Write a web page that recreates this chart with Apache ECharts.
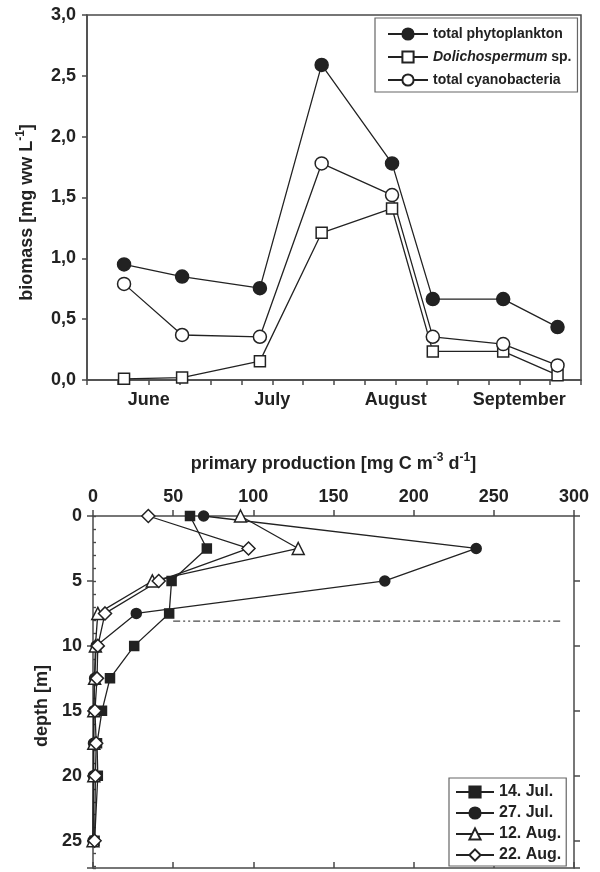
<!DOCTYPE html>
<html>
<head>
<meta charset="utf-8">
<script src="https://cdn.jsdelivr.net/npm/echarts@6/dist/echarts.min.js"></script>
<style>
  html, body { margin: 0; padding: 0; background: #fff; }
  #chart { width: 600px; height: 872px; }
</style>
</head>
<body>
<div id="chart"></div>
<script>
// top panel: biomass over the season (x in months from 1 June)
const sampleTime = [0.30, 0.77, 1.40, 1.90, 2.47, 2.80, 3.37, 3.81]
const totalPhyto = [0.95, 0.85, 0.755, 2.59, 1.78, 0.665, 0.665, 0.435]
const dolichospermum = [0.01, 0.02, 0.155, 1.21, 1.41, 0.235, 0.235, 0.04]
const totalCyano = [0.79, 0.37, 0.355, 1.78, 1.52, 0.355, 0.295, 0.12]
const monthLabels = ['June', 'July', 'August', 'September']

// bottom panel: primary production profiles
const depths = [0, 2.5, 5, 7.5, 10, 12.5, 15, 17.5, 20, 25]
const pp14Jul = [60.5, 71, 49, 47.5, 25.7, 10.6, 5.6, 2.5, 3, 1]
const pp27Jul = [69, 239, 182, 27, 2, 1, 0.5, 0.3, 0.2, 0]
const pp12Aug = [92, 128, 37, 3, 1.5, 1, 0.5, 0.5, 0.5, 0]
const pp22Aug = [34.5, 97, 41, 7.5, 3, 2.5, 1.2, 2, 1.5, 1]
const mixedDepth = 8.1
const mixedRange = [50, 293]

const FONT = "'Liberation Sans', Arial, sans-serif"
const INK = '#222'
const AXIS = '#4a4a4a'

const chart = echarts.init(document.getElementById('chart'))

const pairs = (xs, ys) => xs.map((x, i) => [x, ys[i]])
const profile = (vals) => vals.map((v, i) => [v, depths[i]])

const lbl = { fontFamily: FONT, fontWeight: 'bold', fontSize: 18, color: INK }
const supStyle = { fontFamily: FONT, fontWeight: 'bold', fontSize: 12, color: INK, padding: [0, 0, 12, 0] }

const lineSeries = (name, data, symbol, size, filled, xi, yi) => ({
  name,
  type: 'line',
  xAxisIndex: xi,
  yAxisIndex: yi,
  data,
  symbol,
  symbolSize: size,
  showSymbol: true,
  lineStyle: { color: INK, width: 1.3 },
  itemStyle: { color: filled ? INK : '#fff', borderColor: INK, borderWidth: 1.5 },
  emphasis: { disabled: true },
  animation: false
})

const option = {
  animation: false,
  grid: [
    { left: 87, top: 15, width: 494, height: 365, show: true, borderColor: AXIS, borderWidth: 1.5 },
    { left: 93, top: 516, width: 481, height: 352 }
  ],
  xAxis: [
    {
      gridIndex: 0, type: 'value', min: 0, max: 4, interval: 0.25,
      axisLine: { lineStyle: { color: AXIS, width: 1.5 } },
      axisTick: { length: 5, lineStyle: { color: AXIS, width: 1.5 } },
      splitLine: { show: false },
      axisLabel: {
        ...lbl, margin: 11,
        formatter: (v) => {
          const k = v - 0.5
          return Math.abs(k - Math.round(k)) < 1e-6 ? monthLabels[Math.round(k)] : ''
        }
      }
    },
    {
      gridIndex: 1, type: 'value', position: 'top', min: 0, max: 300, interval: 50,
      name: 'primary production [mg C m{sup|-3} d{sup|-1}]',
      nameLocation: 'middle', nameGap: 40,
      nameTextStyle: { ...lbl, rich: { sup: supStyle } },
      axisLine: { onZero: false, lineStyle: { color: AXIS, width: 1.5 } },
      axisTick: { length: 6, lineStyle: { color: AXIS, width: 1.5 } },
      splitLine: { show: false },
      axisLabel: { ...lbl, margin: 10 }
    },
    {
      gridIndex: 1, type: 'value', position: 'bottom', min: 0, max: 300, interval: 50,
      axisLine: { onZero: false, lineStyle: { color: AXIS, width: 1.5 } },
      axisTick: { inside: true, length: 6, lineStyle: { color: AXIS, width: 1.5 } },
      splitLine: { show: false },
      axisLabel: { show: false }
    }
  ],
  yAxis: [
    {
      gridIndex: 0, type: 'value', min: 0, max: 3, interval: 0.5,
      name: 'biomass [mg ww L{sup|-1}]',
      nameLocation: 'middle', nameGap: 48,
      nameTextStyle: { ...lbl, padding: [0, 30, 0, 0], rich: { sup: supStyle } },
      axisLine: { lineStyle: { color: AXIS, width: 1.5 } },
      axisTick: { length: 5, lineStyle: { color: AXIS, width: 1.5 } },
      splitLine: { show: false },
      axisLabel: { ...lbl, margin: 11, formatter: (v) => v.toFixed(1).replace('.', ',') }
    },
    {
      gridIndex: 1, type: 'value', inverse: true, min: 0, max: 27.1, interval: 5,
      name: 'depth [m]',
      nameLocation: 'middle', nameGap: 40,
      nameTextStyle: { ...lbl, padding: [0, 28, 0, 0] },
      axisLine: { onZero: false, lineStyle: { color: AXIS, width: 1.5 } },
      axisTick: { length: 6, lineStyle: { color: AXIS, width: 1.5 } },
      splitLine: { show: false },
      axisLabel: { ...lbl, margin: 11, formatter: (v) => (v % 5 === 0 ? String(v) : '') }
    },
    {
      gridIndex: 1, type: 'value', inverse: true, min: 0, max: 27.1, interval: 1,
      axisLine: { show: false },
      axisTick: { length: 3, lineStyle: { color: AXIS, width: 1.2 } },
      splitLine: { show: false },
      axisLabel: { show: false }
    },
    {
      gridIndex: 1, type: 'value', position: 'right', inverse: true, min: 0, max: 27.1, interval: 5,
      axisLine: { show: true, onZero: false, lineStyle: { color: AXIS, width: 1.5 } },
      axisTick: { length: 6, lineStyle: { color: AXIS, width: 1.5 } },
      splitLine: { show: false },
      axisLabel: { show: false }
    },
    {
      gridIndex: 1, type: 'value', position: 'right', inverse: true, min: 0, max: 27.1, interval: 1,
      axisLine: { show: false },
      axisTick: { length: 3, lineStyle: { color: AXIS, width: 1.2 } },
      splitLine: { show: false },
      axisLabel: { show: false }
    }
  ],
  legend: [
    {
      left: 375, top: 18, orient: 'vertical',
      data: ['total phytoplankton', 'Dolichospermum sp.', 'total cyanobacteria'],
      itemWidth: 40, itemHeight: 14, itemGap: 9,
      padding: [9, 6, 5, 12],
      backgroundColor: '#fff', borderColor: '#666', borderWidth: 1.2, borderRadius: 0,
      formatter: (n) => (n === 'Dolichospermum sp.' ? '{i|Dolichospermum} sp.' : n),
      textStyle: {
        fontFamily: FONT, fontWeight: 'bold', fontSize: 14, color: INK,
        rich: { i: { fontFamily: FONT, fontWeight: 'bold', fontStyle: 'italic', fontSize: 14, color: INK } }
      }
    },
    {
      left: 449, top: 778, orient: 'vertical',
      data: ['14. Jul.', '27. Jul.', '12. Aug.', '22. Aug.'],
      itemWidth: 38, itemHeight: 14, itemGap: 5,
      padding: [6, 5, 3, 6],
      backgroundColor: '#fff', borderColor: '#666', borderWidth: 1.2, borderRadius: 0,
      textStyle: { fontFamily: FONT, fontWeight: 'bold', fontSize: 16, color: INK }
    }
  ],
  series: [
    lineSeries('Dolichospermum sp.', pairs(sampleTime, dolichospermum), 'rect', 11, false, 0, 0),
    lineSeries('total cyanobacteria', pairs(sampleTime, totalCyano), 'circle', 13, false, 0, 0),
    lineSeries('total phytoplankton', pairs(sampleTime, totalPhyto), 'circle', 13, true, 0, 0),
    {
      name: 'mixed layer',
      type: 'line',
      xAxisIndex: 1,
      yAxisIndex: 1,
      data: mixedRange.map((x) => [x, mixedDepth]),
      symbol: 'none',
      lineStyle: { color: AXIS, width: 1.2, type: [7, 3, 2, 3, 2, 3] },
      emphasis: { disabled: true },
      silent: true
    },
    lineSeries('14. Jul.', profile(pp14Jul), 'rect', 9, true, 1, 1),
    lineSeries('27. Jul.', profile(pp27Jul), 'circle', 10, true, 1, 1),
    lineSeries('12. Aug.', profile(pp12Aug), 'triangle', 12, false, 1, 1),
    lineSeries('22. Aug.', profile(pp22Aug), 'diamond', 13, false, 1, 1)
  ]
}

chart.setOption(option)
</script>
</body>
</html>
